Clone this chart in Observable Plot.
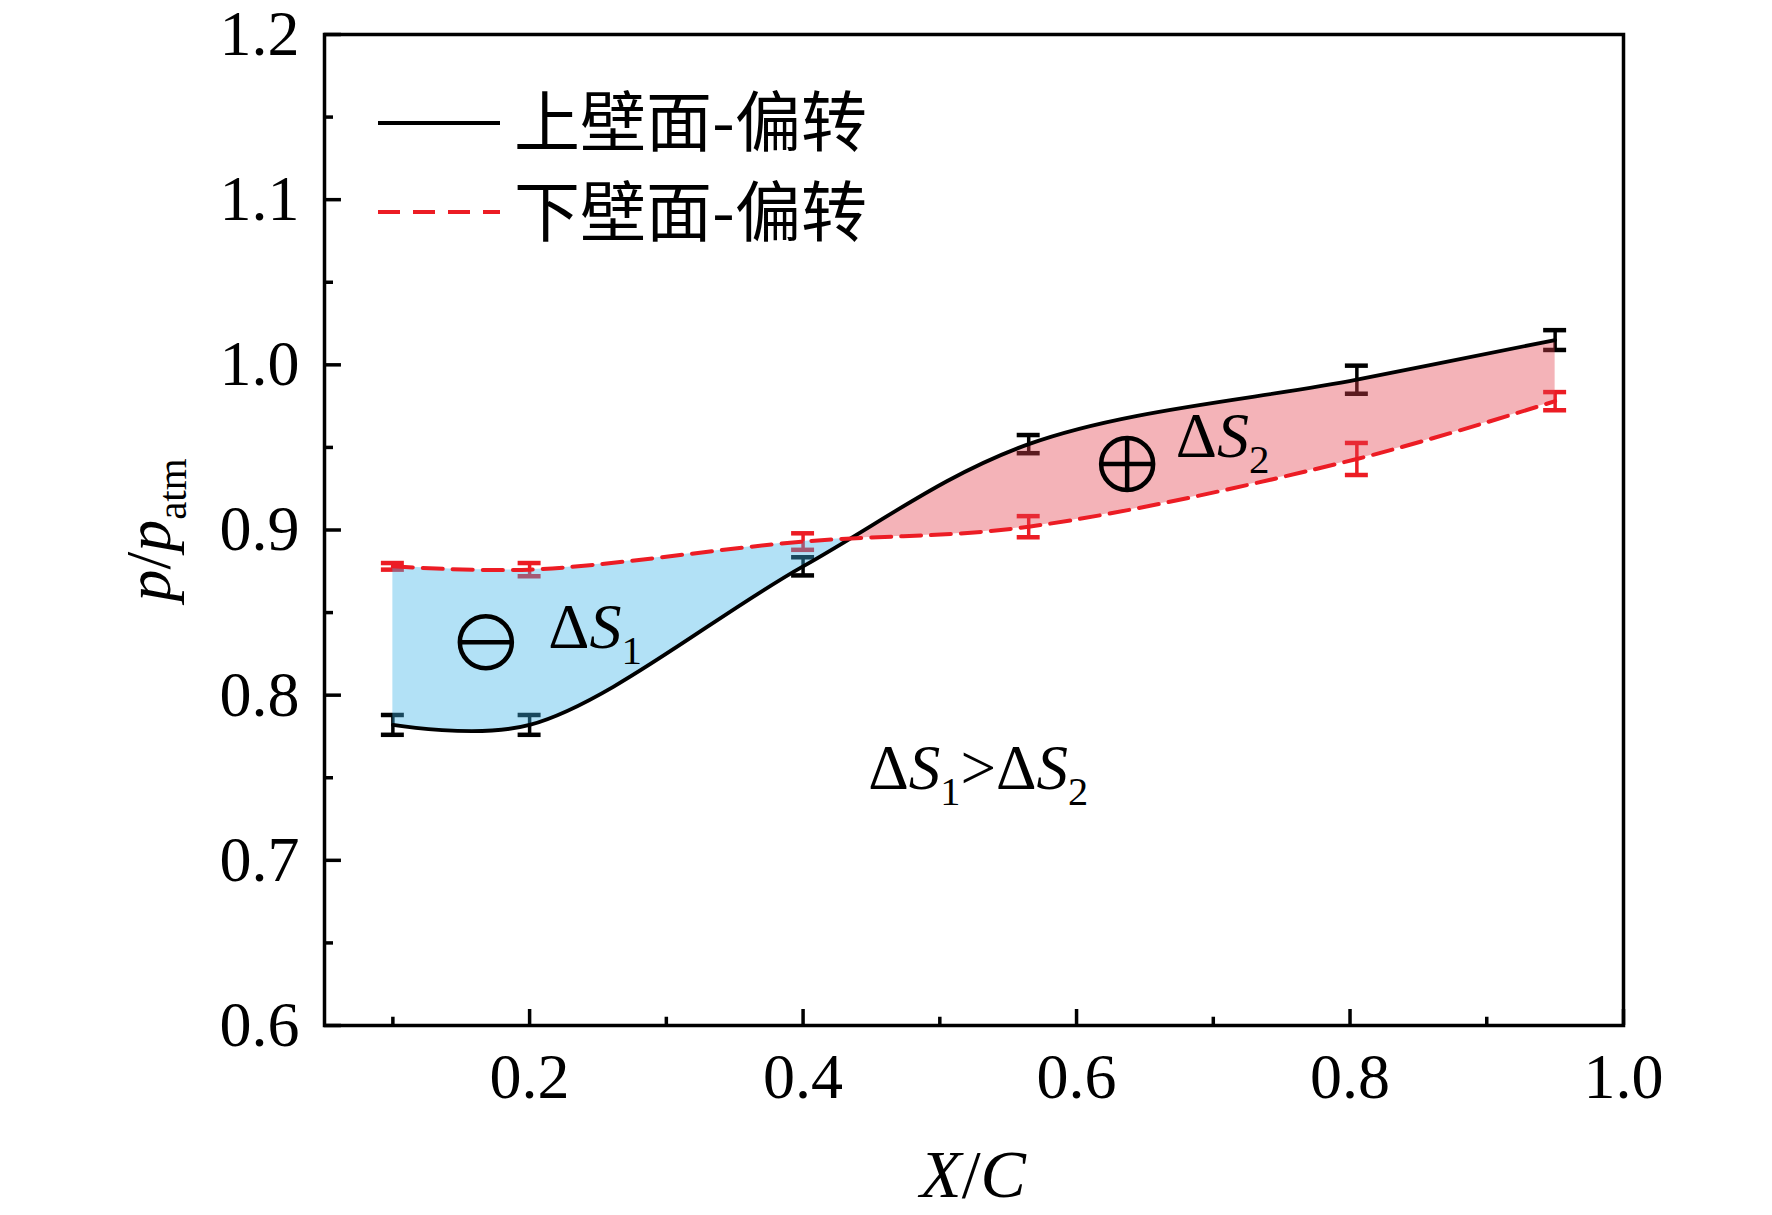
<!DOCTYPE html>
<html>
<head>
<meta charset="utf-8">
<script src="https://cdn.jsdelivr.net/npm/d3@7"></script>
<script src="https://cdn.jsdelivr.net/npm/@observablehq/plot@0.6"></script>
<style>
  html, body { margin: 0; padding: 0; background: #fff; }
  #chart { width: 1772px; height: 1215px; }
</style>
</head>
<body>
<div id="chart"></div>
<script>
// ---------- data ----------
const xPos     = [0.1, 0.2, 0.4, 0.565, 0.805, 0.95];          // X/C
const upperP   = [0.782, 0.782, 0.878, 0.952, 0.991, 1.015];   // 上壁面-偏转
const upperErr = [0.006, 0.006, 0.0055, 0.0055, 0.0085, 0.006];
const lowerP   = [0.878, 0.876, 0.893, 0.902, 0.943, 0.978];   // 下壁面-偏转
const lowerErr = [0.002, 0.004, 0.005, 0.0064, 0.0097, 0.0055];
const seriesNames = ["上壁面-偏转", "下壁面-偏转"];
const crossX = 0.4325;            // where the two curves cross
const xTicks = [0.2, 0.4, 0.6, 0.8, 1.0];
const xMinor = [0.1, 0.3, 0.5, 0.7, 0.9];
const yTicks = [0.6, 0.7, 0.8, 0.9, 1.0, 1.1, 1.2];
const yMinor = [0.65, 0.75, 0.85, 0.95, 1.05, 1.15];
const signMinus = [{x: 0.168, y: 0.832}];
const signPlus  = [{x: 0.637, y: 0.940}];
const dS1 = {x: 0.214, y: 0.828};
const dS2 = {x: 0.673, y: 0.944};
const dIneq = {x: 0.448, y: 0.743};

// ---------- styling ----------
const RED = "#ec1c24";
const BLACK = "#000";
const SERIF = "'Liberation Serif', 'Times New Roman', serif";
const CJK = "'Noto Sans CJK SC', sans-serif";

const rows = xPos.map((x, i) => ({x, upper: upperP[i], ue: upperErr[i], lower: lowerP[i], le: lowerErr[i]}));
const capHalf = 0.0084;     // half-width of error-bar caps in x units
const tickMajY = 0.0097, tickMinY = 0.0050;  // bottom tick lengths (y units)
const tickMajX = 0.0124, tickMinX = 0.0066;  // left tick lengths (x units)

const circleSym = (cross) => ({
  draw(ctx, size) {
    const r = Math.sqrt(size / Math.PI);
    ctx.moveTo(r, 0);
    ctx.arc(0, 0, r, 0, 2 * Math.PI);
    ctx.moveTo(-r, 0); ctx.lineTo(r, 0);
    if (cross) { ctx.moveTo(0, -r); ctx.lineTo(0, r); }
  }
});

const errMarks = (key, ekey, color) => [
  Plot.ruleX(rows, {x: "x", y1: d => d[key] - d[ekey], y2: d => d[key] + d[ekey], stroke: color, strokeWidth: 3.5}),
  Plot.ruleY(rows, {y: d => d[key] - d[ekey], x1: d => d.x - capHalf, x2: d => d.x + capHalf, stroke: color, strokeWidth: 4.5}),
  Plot.ruleY(rows, {y: d => d[key] + d[ekey], x1: d => d.x - capHalf, x2: d => d.x + capHalf, stroke: color, strokeWidth: 4.5})
];

const chart = Plot.plot({
  width: 1772,
  height: 1215,
  marginLeft: 324,
  marginRight: 149,
  marginTop: 34,
  marginBottom: 190,
  style: {fontFamily: SERIF, fontSize: "64px", color: "#000", background: "#fff", overflow: "visible"},
  x: {domain: [0.05, 1.0], label: null},
  y: {domain: [0.6, 1.2], label: null},
  marks: [
    ...errMarks("upper", "ue", BLACK),
    ...errMarks("lower", "le", RED),
    Plot.areaY(rows, {x: "x", y1: "upper", y2: "lower", curve: "catmull-rom", fill: "rgb(62,180,232)", fillOpacity: 0.4}),
    Plot.areaY(rows, {x: "x", y1: "upper", y2: "lower", curve: "catmull-rom", fill: "rgb(227,65,77)", fillOpacity: 0.4}),
    Plot.line(rows, {x: "x", y: "upper", curve: "catmull-rom", stroke: BLACK, strokeWidth: 3.8}),
    Plot.line(rows, {x: "x", y: "lower", curve: "catmull-rom", stroke: RED, strokeWidth: 4, strokeDasharray: "20,10"}),
    Plot.dot(signMinus, {x: "x", y: "y", r: 26, symbol: circleSym(false), stroke: BLACK, strokeWidth: 4.5, fill: "none"}),
    Plot.dot(signPlus, {x: "x", y: "y", r: 26, symbol: circleSym(true), stroke: BLACK, strokeWidth: 4.5, fill: "none"}),
    // inward ticks
    Plot.ruleX(xTicks, {x: d => d, y1: 0.6, y2: 0.6 + tickMajY, stroke: BLACK, strokeWidth: 3.5}),
    Plot.ruleX(xMinor, {x: d => d, y1: 0.6, y2: 0.6 + tickMinY, stroke: BLACK, strokeWidth: 3.5}),
    Plot.ruleY(yTicks, {y: d => d, x1: 0.05, x2: 0.05 + tickMajX, stroke: BLACK, strokeWidth: 3.5}),
    Plot.ruleY(yMinor, {y: d => d, x1: 0.05, x2: 0.05 + tickMinX, stroke: BLACK, strokeWidth: 3.5}),
    Plot.frame({stroke: BLACK, strokeWidth: 3.5}),
    Plot.axisX({ticks: xTicks, tickSize: 0, tickPadding: 27, tickFormat: ".1f", fontSize: 64, label: null}),
    Plot.axisY({ticks: yTicks, tickSize: 0, tickPadding: 25, tickFormat: ".1f", fontSize: 64, label: null})
  ]
});

// ---------- split the filled band at the crossing ----------
const svg = d3.select(chart);
const xs = chart.scale("x"), ys = chart.scale("y");
const defs = svg.insert("defs", ":first-child");
const addClip = (id, x0, x1) => defs.append("clipPath").attr("id", id)
  .append("rect").attr("x", x0).attr("y", 0).attr("width", x1 - x0).attr("height", 1215);
addClip("clipBlue", xs.apply(xPos[0]) - 2, xs.apply(crossX));
addClip("clipPink", xs.apply(crossX), xs.apply(xPos[xPos.length - 1]) + 2);
const areas = svg.selectAll('g[aria-label="area"]').nodes();
if (areas.length >= 2) {
  d3.select(areas[0]).attr("clip-path", "url(#clipBlue)");
  d3.select(areas[1]).attr("clip-path", "url(#clipPink)");
}

// ---------- rich text helper (italics / subscripts) ----------
function rich(parent, x, y, parts, size, anchor = "start", transform = null) {
  const t = parent.append("text")
    .attr("font-family", SERIF).attr("font-size", size)
    .attr("text-anchor", anchor).attr("fill", "#000");
  if (transform) t.attr("transform", transform); else t.attr("x", x).attr("y", y);
  let shift = 0;
  for (const p of parts) {
    const ts = t.append("tspan").text(p.t);
    if (p.i) ts.attr("font-style", "italic");
    const want = p.sub ? size * 0.25 : 0;
    if (want !== shift) { ts.attr("dy", want - shift); shift = want; }
    if (p.sub) ts.attr("font-size", size * 0.64);
  }
  return t;
}

const ann = svg.append("g").attr("class", "annotations");
rich(ann, xs.apply(dS1.x), ys.apply(dS1.y), [{t: "Δ"}, {t: "S", i: true}, {t: "1", sub: true}], 64);
rich(ann, xs.apply(dS2.x), ys.apply(dS2.y), [{t: "Δ"}, {t: "S", i: true}, {t: "2", sub: true}], 64);
rich(ann, xs.apply(dIneq.x), ys.apply(dIneq.y), [{t: "Δ"}, {t: "S", i: true}, {t: "1", sub: true}, {t: ">"}, {t: "Δ"}, {t: "S", i: true}, {t: "2", sub: true}], 63);

// axis titles
rich(ann, 0, 0, [{t: "p", i: true}, {t: "/"}, {t: "p", i: true}, {t: "atm", sub: true}], 64, "middle", "translate(170,530) rotate(-90)");
rich(ann, 973, 1197, [{t: "X", i: true}, {t: "/"}, {t: "C", i: true}], 68, "middle");

// ---------- legend ----------
const leg = svg.append("g").attr("class", "legend").attr("text-anchor", "start");
const legendRows = [
  {name: seriesNames[0], y: 123, base: 146, stroke: BLACK, dash: null},
  {name: seriesNames[1], y: 212, base: 236, stroke: RED, dash: "22,13"}
];
for (const r of legendRows) {
  const ln = leg.append("line").attr("x1", 378).attr("x2", 500).attr("y1", r.y).attr("y2", r.y)
    .attr("stroke", r.stroke).attr("stroke-width", 4);
  if (r.dash) ln.attr("stroke-dasharray", r.dash);
  leg.append("text").attr("x", 514).attr("y", r.base).attr("text-anchor", "start")
    .attr("font-family", CJK).attr("font-size", 66).attr("fill", "#000").text(r.name);
}

document.getElementById("chart").appendChild(chart);
</script>
</body>
</html>
